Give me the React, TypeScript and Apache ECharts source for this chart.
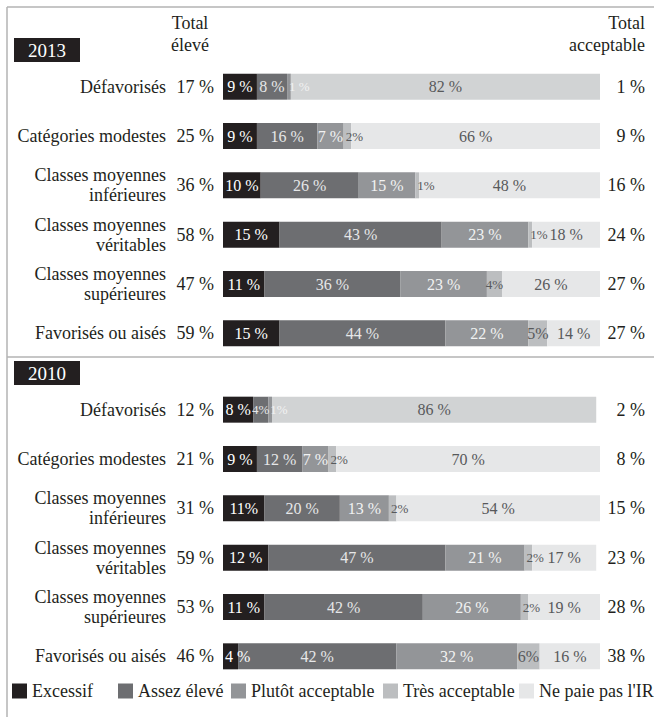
import React, { useEffect, useRef } from "react";
import * as echarts from "echarts";

const categories = [
  "Défavorisés",
  "Catégories modestes",
  "Classes moyennes\ninférieures",
  "Classes moyennes\nvéritables",
  "Classes moyennes\nsupérieures",
  "Favorisés ou aisés",
];

const seriesNames = ["Excessif", "Assez élevé", "Plutôt acceptable", "Très acceptable", "Ne paie pas l'IR"];

// 2013
const excessif2013 = [9, 9, 10, 15, 11, 15];
const assez2013 = [8, 16, 26, 43, 36, 44];
const plutot2013 = [1, 7, 15, 23, 23, 22];
const tres2013 = [0, 2, 1, 1, 4, 5];
const nePaie2013 = [82, 66, 48, 18, 26, 14];
const totalEleve2013 = [17, 25, 36, 58, 47, 59];
const totalAccept2013 = [1, 9, 16, 24, 27, 27];

// 2010
const excessif2010 = [8, 9, 11, 12, 11, 4];
const assez2010 = [4, 12, 20, 47, 42, 42];
const plutot2010 = [1, 7, 13, 21, 26, 32];
const tres2010 = [0, 2, 2, 2, 2, 6];
const nePaie2010 = [86, 70, 54, 17, 19, 16];
const totalEleve2010 = [12, 21, 31, 59, 53, 46];
const totalAccept2010 = [2, 8, 15, 23, 28, 38];

// labels printed without the space before "%"
const compactLabels = ["2010-1-0", "2010-2-0", "2010-0-2"];

const FONT = "'Liberation Serif', serif";
const TEXT = "#231f20";
const colors = ["#231f20", "#6d6e71", "#939598", "#bcbec0", "#e6e7e8"];
const labelColors = ["#ffffff", "#e6e7e8", "#f1f2f2", "#58595b", "#58595b"];
const defavorisesNePaieColor = "#d1d3d4";

export default function App() {
  const ref = useRef<HTMLDivElement>(null);

  useEffect(() => {
    if (!ref.current) return;
    const chart = echarts.init(ref.current, null, { renderer: "svg" });

    const years = [
      { year: "2013", vals: [excessif2013, assez2013, plutot2013, tres2013, nePaie2013], eleve: totalEleve2013, acc: totalAccept2013, top: 62 },
      { year: "2010", vals: [excessif2010, assez2010, plutot2010, tres2010, nePaie2010], eleve: totalEleve2010, acc: totalAccept2010, top: 385 },
    ];

    const grids: any[] = [];
    const xAxes: any[] = [];
    const yAxes: any[] = [];
    const series: any[] = [];

    years.forEach((y, gi) => {
      grids.push({ left: 223, width: 377, top: y.top, height: 296, containLabel: false });
      xAxes.push({ type: "value", gridIndex: gi, min: 0, max: 100, show: false });
      const baseAxis = {
        type: "category",
        gridIndex: gi,
        data: categories,
        inverse: true,
        axisLine: { show: false },
        axisTick: { show: false },
        splitLine: { show: false },
      };
      const yIdx = yAxes.length;
      yAxes.push({
        ...baseAxis,
        position: "left",
        axisLabel: {
          margin: 57,
          align: "right",
          fontFamily: FONT,
          fontSize: 18,
          lineHeight: 20,
          color: TEXT,
        },
      });
      yAxes.push({
        ...baseAxis,
        position: "left",
        axisLabel: {
          margin: 9,
          align: "right",
          fontFamily: FONT,
          fontSize: 18,
          color: TEXT,
          formatter: (_v: string, i: number) => `${y.eleve[i]} %`,
        },
      });
      yAxes.push({
        ...baseAxis,
        position: "right",
        axisLabel: {
          margin: 45,
          align: "right",
          fontFamily: FONT,
          fontSize: 18,
          color: TEXT,
          formatter: (_v: string, i: number) => `${y.acc[i]} %`,
        },
      });

      y.vals.forEach((arr, si) => {
        series.push({
          type: "bar",
          name: seriesNames[si],
          stack: "s" + y.year,
          xAxisIndex: gi,
          yAxisIndex: yIdx,
          barWidth: 26,
          itemStyle: { color: colors[si] },
          data: arr.map((v, ci) => {
            const leftAligned = v <= 2 || (si === 0 && v < 5);
            const narrow = si > 0 && v <= 4;
            const compact = si === 3 || compactLabels.includes(`${y.year}-${si}-${ci}`);
            const item: any = {
              value: v,
              label: {
                show: v > 0,
                position: leftAligned ? "insideLeft" : "inside",
                distance: leftAligned ? 2 : 5,
                formatter: compact ? `${v}%` : `${v} %`,
                color: labelColors[si],
                fontFamily: FONT,
                fontSize: narrow ? 13 : 16,
              },
            };
            if (si === 4 && ci === 0) item.itemStyle = { color: defavorisesNePaieColor };
            return item;
          }),
        });
      });
    });

    const legendLefts = [12, 118, 231, 383, 519];
    const legends = seriesNames.map((n, i) => ({
      data: [n],
      left: legendLefts[i],
      top: 682,
      padding: 0,
      itemWidth: 15,
      itemHeight: 15,
      icon: "rect",
      selectedMode: false,
      textStyle: { fontFamily: FONT, fontSize: 18, color: TEXT },
    }));

    const lineStyle = { stroke: "#b3b3b3", lineWidth: 1.5 };
    const headerText = (x: number, y: number, text: string, align: string) => ({
      type: "text",
      x,
      y,
      style: { text, fontFamily: FONT, fontSize: 18, fill: TEXT, align, verticalAlign: "middle" },
    });

    chart.setOption({
      animation: false,
      backgroundColor: "#ffffff",
      textStyle: { fontFamily: FONT },
      grid: grids,
      xAxis: xAxes,
      yAxis: yAxes,
      legend: legends,
      series,
      graphic: [
        { type: "line", shape: { x1: 7, y1: 7, x2: 654, y2: 7 }, style: lineStyle },
        { type: "line", shape: { x1: 7, y1: 7, x2: 7, y2: 717 }, style: lineStyle },
        { type: "line", shape: { x1: 7, y1: 357, x2: 654, y2: 357 }, style: lineStyle },
        { type: "rect", shape: { x: 14, y: 38, width: 66, height: 24 }, style: { fill: "#231f20" } },
        { type: "text", x: 47, y: 50, style: { text: "2013", fontFamily: FONT, fontSize: 19, fill: "#fff", align: "center", verticalAlign: "middle" } },
        { type: "rect", shape: { x: 14, y: 361, width: 66, height: 24 }, style: { fill: "#231f20" } },
        { type: "text", x: 47, y: 373, style: { text: "2010", fontFamily: FONT, fontSize: 19, fill: "#fff", align: "center", verticalAlign: "middle" } },
        headerText(190, 23, "Total", "center"),
        headerText(190, 45, "élevé", "center"),
        headerText(645, 23, "Total", "right"),
        headerText(645, 45, "acceptable", "right"),
      ],
    });

    return () => chart.dispose();
  }, []);

  return (
    <div
      ref={ref}
      style={{ position: "absolute", left: 0, top: 0, width: 654, height: 717, background: "#fff" }}
    />
  );
}
